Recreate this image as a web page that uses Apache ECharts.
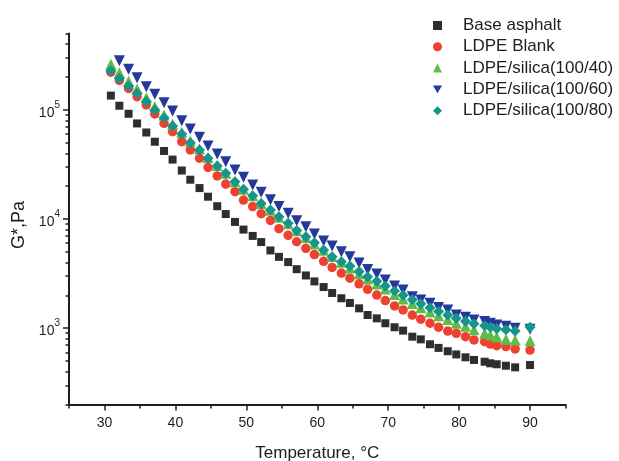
<!DOCTYPE html>
<html><head><meta charset="utf-8">
<script src="https://cdn.jsdelivr.net/npm/echarts@6/dist/echarts.min.js"></script>
<style>html,body{margin:0;padding:0;background:#fff}#c{width:619px;height:461px}</style>
</head><body><div id="c"></div>
<script>
const temperatures = [30.9, 32.1, 33.4, 34.6, 35.9, 37.1, 38.4, 39.6, 40.9, 42.1,
  43.4, 44.6, 45.9, 47.1, 48.4, 49.6, 50.9, 52.1, 53.4, 54.6,
  55.9, 57.1, 58.4, 59.6, 60.9, 62.1, 63.4, 64.6, 65.9, 67.1,
  68.4, 69.6, 70.9, 72.1, 73.4, 74.6, 75.9, 77.1, 78.4, 79.6,
  80.9, 82.1, 83.6, 84.4, 85.3, 86.6, 87.9, 90.0];
const baseAsphalt = [1.35e5, 1.09e5, 9.2e4, 7.5e4, 6.2e4, 5.1e4, 4.2e4, 3.5e4, 2.78e4, 2.29e4,
  1.92e4, 1.6e4, 1.31e4, 1.11e4, 9.4e3, 8.0e3, 7.0e3, 6.15e3, 5.15e3, 4.5e3,
  4.03e3, 3.47e3, 3.04e3, 2.68e3, 2.38e3, 2.1e3, 1.88e3, 1.7e3, 1.52e3, 1.32e3,
  1.23e3, 1.11e3, 1.02e3, 950, 836, 790, 713, 660, 615, 575,
  541, 512, 493, 477, 467, 453, 438, 460];
const ldpeBlank = [2.21e5, 1.86e5, 1.57e5, 1.32e5, 1.11e5, 9.16e4, 7.52e4, 6.31e4, 5.11e4, 4.29e4,
  3.6e4, 2.97e4, 2.48e4, 2.09e4, 1.78e4, 1.49e4, 1.30e4, 1.12e4, 9.7e3, 8.15e3,
  7.08e3, 6.19e3, 5.39e3, 4.72e3, 4.1e3, 3.6e3, 3.2e3, 2.87e3, 2.55e3, 2.27e3,
  2.01e3, 1.79e3, 1.60e3, 1.47e3, 1.32e3, 1.21e3, 1.11e3, 1.02e3, 942, 897,
  836, 780, 752, 716, 692, 678, 646, 631];
const silica40 = [2.62e5, 2.19e5, 1.83e5, 1.55e5, 1.29e5, 1.07e5, 8.95e4, 7.41e4, 6.24e4, 5.16e4,
  4.39e4, 3.65e4, 3.09e4, 2.63e4, 2.19e4, 1.87e4, 1.63e4, 1.39e4, 1.20e4, 1.04e4,
  9.04e3, 7.82e3, 6.76e3, 5.89e3, 5.16e3, 4.54e3, 4.02e3, 3.56e3, 3.16e3, 2.82e3,
  2.54e3, 2.28e3, 2.04e3, 1.85e3, 1.68e3, 1.54e3, 1.41e3, 1.30e3, 1.20e3, 1.11e3,
  1.04e3, 966, 897, 867, 836, 791, 780, 769];
const silica60 = [null, 2.82e5, 2.35e5, 1.97e5, 1.63e5, 1.39e5, 1.16e5, 9.75e4, 7.94e4, 6.67e4,
  5.6e4, 4.66e4, 3.94e4, 3.35e4, 2.81e4, 2.41e4, 2.05e4, 1.76e4, 1.5e4, 1.30e4,
  1.13e4, 9.64e3, 8.5e3, 7.3e3, 6.3e3, 5.66e3, 5.0e3, 4.5e3, 3.95e3, 3.45e3,
  3.13e3, 2.76e3, 2.43e3, 2.24e3, 1.94e3, 1.81e3, 1.69e3, 1.55e3, 1.47e3, 1.32e3,
  1.26e3, 1.19e3, 1.15e3, 1.11e3, 1.07e3, 1.04e3, 1.0e3, 977];
const silica80 = [2.28e5, 1.94e5, 1.65e5, 1.42e5, 1.19e5, 9.95e4, 8.47e4, 7.10e4, 6.0e4, 5.0e4,
  4.29e4, 3.6e4, 3.05e4, 2.62e4, 2.19e4, 1.87e4, 1.63e4, 1.39e4, 1.21e4, 1.05e4,
  9.14e3, 7.84e3, 6.89e3, 6.07e3, 5.2e3, 4.52e3, 4.06e3, 3.72e3, 3.31e3, 2.96e3,
  2.69e3, 2.43e3, 2.19e3, 2.0e3, 1.82e3, 1.67e3, 1.54e3, 1.42e3, 1.32e3, 1.23e3,
  1.16e3, 1.10e3, 1.05e3, 1.02e3, 989, 966, 944, 1.02e3];
const seriesNames = ['Base asphalt', 'LDPE Blank', 'LDPE/silica(100/40)', 'LDPE/silica(100/60)', 'LDPE/silica(100/80)'];
const xMajorTicks = [30, 40, 50, 60, 70, 80, 90];
const xMinorTicks = [25, 35, 45, 55, 65, 75, 85, 95];
const yMajorTicks = [1000, 10000, 100000];
const yMinorTicks = [200, 300, 400, 500, 600, 700, 800, 900,
  2000, 3000, 4000, 5000, 6000, 7000, 8000, 9000,
  20000, 30000, 40000, 50000, 60000, 70000, 80000, 90000,
  200000, 300000, 400000, 500000];

const FONT = "'Liberation Sans', Arial, Helvetica, sans-serif";
const INK = '#1e1e1e';
function pairs(vals) { return temperatures.map((t, i) => [t, vals[i]]).filter(p => p[1] != null); }

const styles = [
  { data: baseAsphalt, symbol: 'rect', size: 8, color: '#2e2e2e', rotate: 0, icon: 'rect' },
  { data: ldpeBlank, symbol: 'circle', size: 9.5, color: '#f0402f', rotate: 0, icon: 'circle' },
  { data: silica40, symbol: 'triangle', size: 11, color: '#5dbd48', rotate: 0, icon: 'triangle' },
  { data: silica60, symbol: 'triangle', size: 11, color: '#25399a', rotate: 180, icon: 'path://M0,0L2,0L1,1.732Z' },
  { data: silica80, symbol: 'diamond', size: 11, color: '#15968b', rotate: 0, icon: 'diamond' }
];

const chart = echarts.init(document.getElementById('c'), null, { renderer: 'canvas' });
chart.setOption({
  animation: false,
  backgroundColor: '#ffffff',
  textStyle: { fontFamily: FONT },
  grid: { left: 69, right: 53.5, top: 33.5, bottom: 56.5, containLabel: false, outerBoundsMode: 'none' },
  legend: {
    orient: 'vertical', left: 428, top: 12,
    itemWidth: 9, itemHeight: 9, itemGap: 4.3, symbolKeepAspect: true,
    textStyle: { fontFamily: FONT, fontSize: 17, color: INK, padding: [0, 0, 0, 16] },
    data: seriesNames.map((n, i) => ({ name: n, icon: styles[i].icon }))
  },
  xAxis: [{
    type: 'value', min: 25, max: 95, position: 'bottom',
    name: 'Temperature, °C', nameLocation: 'middle', nameGap: 40,
    nameTextStyle: { fontFamily: FONT, fontSize: 17, color: INK },
    axisLine: { show: true, onZero: false, lineStyle: { color: INK, width: 2 } },
    axisTick: { show: true, inside: false, length: 6, customValues: xMajorTicks, lineStyle: { color: INK, width: 1.5 } },
    axisLabel: { show: true, customValues: xMajorTicks, margin: 12, fontFamily: FONT, fontSize: 14, color: INK },
    splitLine: { show: false }
  }, {
    type: 'value', min: 25, max: 95, position: 'bottom', offset: 0,
    axisLine: { show: false, onZero: false },
    axisTick: { show: true, inside: false, length: 4, customValues: xMinorTicks, lineStyle: { color: INK, width: 1.5 } },
    axisLabel: { show: false },
    splitLine: { show: false }
  }],
  yAxis: [{
    type: 'log', logBase: 10, min: 200, max: 500000, position: 'left',
    name: 'G*,Pa', nameLocation: 'middle', nameGap: 32, nameRotate: 90,
    nameTextStyle: { fontFamily: FONT, fontSize: 18, color: INK, padding: [0, 12, 0, 0] },
    axisLine: { show: true, onZero: false, lineStyle: { color: INK, width: 2 } },
    axisTick: { show: true, inside: false, length: 6, customValues: yMajorTicks, lineStyle: { color: INK, width: 1.5 } },
    axisLabel: {
      show: true, customValues: yMajorTicks, margin: 9, color: INK,
      formatter: function (v) { return '{b|10}{s|' + Math.round(Math.log10(v)) + '}'; },
      rich: {
        b: { fontFamily: FONT, fontSize: 14, color: INK, lineHeight: 20, verticalAlign: 'bottom' },
        s: { fontFamily: FONT, fontSize: 10, color: INK, lineHeight: 10, verticalAlign: 'top' }
      }
    },
    splitLine: { show: false }
  }, {
    type: 'log', logBase: 10, min: 200, max: 500000, position: 'left', offset: 0,
    axisLine: { show: false, onZero: false },
    axisTick: { show: true, inside: false, length: 3.5, customValues: yMinorTicks, lineStyle: { color: INK, width: 1.5 } },
    axisLabel: { show: false },
    splitLine: { show: false }
  }],
  series: styles.map((s, i) => ({
    name: seriesNames[i],
    type: 'scatter',
    xAxisIndex: 0, yAxisIndex: 0,
    symbol: s.symbol,
    symbolSize: s.size,
    symbolRotate: s.rotate,
    itemStyle: { color: s.color, opacity: 1 },
    data: pairs(s.data),
    z: 2 + i
  }))
});
</script></body></html>
